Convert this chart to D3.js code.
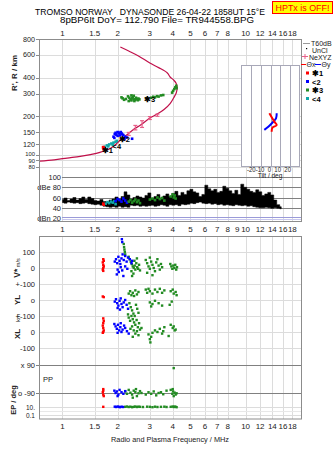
<!DOCTYPE html>
<html><head><meta charset="utf-8">
<script src="https://cdn.jsdelivr.net/npm/d3@7"></script>
<style>body{margin:0;background:#fff}svg{display:block}text{font-family:"Liberation Sans",Arial,sans-serif}</style>
</head><body><svg id="c" width="335" height="451"></svg>
<script>
// ---------------- DATA ----------------
const topTicks = [1,1.5,2,3,4,5,6,7,8,10,12,14,16,18];
const midTicks = [1,1.5,2,3,4,5,6,7,8,9,10,12,14,16,18];
const botTicks = [1,1.5,2,3,4,5,6,7,8,10,12,14,16,18];
const heightTicks = [800,600,400,300,200,150,120,100,90,80];
const ampTicks = [100,80,60,40,20];
const ampTickLabels = ["100","dBe 80","60","40","dBn 20"];
const tiltTicks = [-20,-10,0,10,20];

// true-height profile (MHz, km)
const profileF = [0.749,0.9,1.06,1.25,1.42,1.6,1.83,1.95,2.07,2.25,2.45,2.67,3.0,3.3,3.6,3.87,4.05,4.18,4.23,4.18,4.05,3.87,3.74,3.35,3.0,2.6,2.3,2.07];
const profileH = [89,91,94,97,100,104,112,120,130,143,158,170,193,208,226,250,278,303,331,360,382,404,434,478,519,590,645,693];
// NeXYZ error bars [f, h, lo, hi]
const neXYZ = [[2.3,145,141,149],[2.5,162,156,169],[2.72,172,163,184],[3.0,193,188,198],[3.3,203,199,207]];

// echoes in R' (f, km)
const echo1 = [[1.67,114],[1.68,111]];
const echo2 = [[1.9,138],[1.93,145],[1.95,148],[2.0,150],[2.03,148],[2.05,146],[2.08,150],[2.1,147],[2.12,144],[2.15,142],[2.0,140],[1.92,135],[2.2,138],[2.25,136],[2.4,133],[2.18,132],[1.97,143],[2.06,141]];
const echo3 = [[2.10,280],[2.13,275],[2.17,268],[2.22,272],[2.28,285],[2.32,278],[2.35,270],[2.38,265],[2.40,275],[2.42,282],[2.45,270],[2.47,262],[2.50,268],[2.52,278],[2.55,272],[2.58,266],[2.60,274],[2.63,270],[2.38,290],[2.45,288],[2.3,262],[2.9,275],[3.05,278],[3.13,283],[3.2,280],[3.28,286],[3.35,284],[3.45,290],[3.55,292],[3.97,305],[4.02,315],[4.08,325],[4.13,335],[4.18,345],[4.2,330]];
const echo4 = [[1.7,115],[1.75,118],[1.8,120],[1.85,122],[1.9,124],[1.95,126],[1.98,128],[1.88,119],[1.78,116]];
const echoLabels = [["✱1",1.76,109],["<4",1.98,117],["✱2",2.18,133],["✱3",2.99,272]];

// tilt inset (deg, km)
const tiltX = [[-1.2,210],[4,181],[6.5,170],[2,162],[1.2,151]];
const tiltY = [[6.5,210],[5.8,192],[1.2,175],[-2.3,165],[-6.5,156]];

// amplitude band (MHz, dB top, dB bottom)
const ampF = [1.00,1.04,1.08,1.12,1.16,1.21,1.25,1.30,1.35,1.40,1.46,1.51,1.57,1.63,1.70,1.76,1.83,1.90,1.97,2.05,2.13,2.21,2.29,2.38,2.47,2.57,2.66,2.77,2.87,2.98,3.10,3.22,3.34,3.47,3.60,3.74,3.88,4.03,4.19,4.35,4.52,4.69,4.87,5.06,5.25,5.45,5.66,5.88,6.10,6.34,6.58,6.83,7.10,7.37,7.65,7.95,8.25,8.57,8.90,9.24,9.59,9.96,10.34,10.74,11.15,11.58,12.03,12.49,12.97,13.46,13.98,14.52,15.08,15.66];
const ampTop = [56,59,54,57,60,55,58,61,56,61,58,54,53,56,52,51,55,57,61,57,62,71,65,57,60,63,61,59,64,69,58,62,66,59,63,67,62,68,72,64,70,66,73,76,71,69,62,66,84,77,73,76,70,72,82,78,73,68,74,66,86,80,76,72,70,75,71,64,67,70,65,55,46,42];
const ampBot = [50,49,51,50,49,50,48,49,50,48,47,46,47,45,43,42,41,42,41,43,41,42,41,45,44,45,43,44,43,44,45,43,44,46,45,43,46,45,46,44,47,46,47,49,48,50,51,49,48,49,47,48,46,47,45,46,45,44,46,45,44,45,43,44,42,41,40,40,41,40,39,40,39,38];
const amp1 = [[1.67,48],[1.68,46]];
const amp2 = [[1.95,53],[2.0,57],[2.05,55],[2.1,52],[2.15,58],[2.2,54],[2.25,50]];
const amp3 = [[2.3,52],[2.35,55],[2.4,50],[2.45,53],[2.5,56],[2.55,51],[2.6,54],[2.65,49],[3.0,56],[3.1,58],[3.2,55],[3.3,60],[3.4,57],[3.5,59],[3.6,54],[3.9,62],[4.0,66],[4.05,60],[4.1,64],[4.15,58]];
const amp4 = [[1.72,48],[1.76,51],[1.8,49],[1.84,52],[1.88,50],[1.92,53],[1.95,47]];

// V* (m/s)
const v1 = [[1.67,55],[1.68,45],[1.66,35],[1.67,20],[1.68,10],[1.67,0],[1.66,-10],[1.67,-18]];
const v2 = [[2.11,180],[2.12,162],[1.93,40],[1.96,55],[1.99,30],[2.02,70],[2.05,45],[2.07,25],[2.1,60],[2.13,85],[2.16,50],[2.2,75],[2.24,40],[2.28,65],[2.33,55],[2.38,30],[2.4,45],[2.0,-10],[2.03,-25],[1.98,-40],[2.08,5],[2.12,-15],[2.15,-50],[2.2,10],[2.26,-5]];
const v3 = [[2.16,150],[2.17,130],[2.18,115],[2.19,100],[2.2,85],[2.3,70],[2.33,55],[2.36,40],[2.39,25],[2.42,10],[2.45,0],[2.48,15],[2.5,-10],[2.53,30],[2.56,5],[2.59,-5],[2.62,20],[2.65,-15],[2.38,-20],[2.44,-35],[2.4,-50],[2.47,45],[2.55,60],[2.85,50],[2.9,30],[2.95,10],[3.0,-5],[3.05,40],[3.1,20],[3.15,0],[3.2,-20],[3.25,35],[3.3,55],[3.35,15],[3.4,-10],[3.45,25],[3.5,5],[2.9,-30],[3.1,-45],[3.0,65],[3.88,25],[3.93,10],[3.98,-5],[4.03,15],[4.08,0],[4.13,20],[4.18,-10],[4.22,5]];
// YL (km)
const yl1 = [[1.66,22],[1.68,18]];
const yl2 = [[1.93,-10],[1.96,5],[1.99,-20],[2.02,-35],[2.05,-5],[2.08,10],[2.1,-25],[2.13,-45],[2.16,-15],[2.2,0],[2.24,-30],[2.28,-55],[2.0,-50],[2.06,-60]];
const yl3 = [[2.3,40],[2.34,55],[2.38,30],[2.42,45],[2.46,25],[2.5,60],[2.55,35],[2.6,50],[2.85,65],[2.9,45],[2.95,70],[3.0,55],[3.1,40],[3.2,65],[3.3,50],[3.4,70],[3.5,45],[3.6,60],[3.9,55],[4.0,65],[4.05,40],[4.15,50],[4.2,30],[2.32,-20],[2.36,-45],[2.4,-65],[2.44,-85],[2.48,-100],[2.52,-30],[2.56,-55],[2.6,-80],[2.28,-90],[3.0,-15],[3.1,-25],[3.2,-5],[3.35,-20],[3.5,-35],[3.05,-40],[3.85,-30],[3.95,-10]];
// XL (km)
const xl1 = [[1.67,85],[1.68,70],[1.67,55],[1.66,40],[1.67,25],[1.68,10],[1.67,0],[1.66,-5]];
const xl2 = [[1.92,50],[1.95,35],[1.98,20],[2.01,45],[2.04,10],[2.07,30],[2.1,0],[2.13,15],[2.17,40],[2.2,25],[2.25,5],[2.3,-10],[2.0,-5],[2.08,55]];
const xl3 = [[2.3,90],[2.34,70],[2.38,100],[2.42,80],[2.46,60],[2.5,45],[2.54,75],[2.58,30],[2.62,55],[2.35,20],[2.4,35],[2.45,10],[2.5,-10],[2.55,5],[2.6,-20],[2.65,15],[2.42,-30],[2.7,25],[2.95,-15],[3.0,-45],[3.02,-65],[3.05,-30],[3.1,-5],[3.2,10],[3.3,0],[3.4,20],[3.5,-10],[3.6,30],[3.55,5],[3.9,45],[4.0,25],[4.05,35],[4.1,10],[4.15,15],[3.8,-25]];
// PP (deg)
const pp1 = [[1.67,-65],[1.67,-75],[1.66,-85],[1.67,-100],[1.68,-110]];
const pp2 = [[1.92,-75],[1.95,-90],[1.98,-80],[2.02,-100],[2.05,-70],[2.1,-85],[2.15,-95],[2.2,-78],[2.0,-110]];
const pp3 = [[2.2,-80],[2.25,-95],[2.3,-70],[2.35,-88],[2.4,-100],[2.45,-75],[2.5,-85],[2.55,-110],[2.6,-92],[2.65,-78],[2.42,-120],[2.52,-65],[2.7,-90],[2.85,-100],[2.95,-85],[3.05,-95],[3.15,-80],[3.25,-105],[3.35,-90],[3.45,-85],[3.55,-98],[3.7,-75],[3.9,-70],[3.98,-95],[4.02,-80],[4.05,-110],[4.1,-88],[4.15,-100],[4.2,-92],[4.0,-65],[4.05,70]];
// EP (deg)
const ep1 = [[1.67,11]];
const ep2 = [[1.93,12],[1.96,10],[2.0,13],[2.03,11],[2.06,9],[2.1,12],[2.14,10]];
const ep3 = [[2.2,11],[2.25,13],[2.3,10],[2.35,12],[2.4,9],[2.45,11],[2.5,13],[2.55,10],[2.6,12],[2.65,11],[2.75,10],[2.9,12],[3.0,11],[3.1,9],[3.2,12],[3.3,10],[3.45,11],[3.6,12],[3.7,10],[3.9,11],[4.0,13],[4.05,10],[4.1,12],[4.15,11],[4.2,9]];

const lowerTicks = [["100","v",100],["0","v",0],["+-100","v",-100],["o","yl",0],["+-100","yl",-100],["0","xl",0],["-100","xl",-100],["x 90","pp",90],["o -90","pp",-90],["10.","ep",10],["0.1","ep",0.1]];

// ---------------- DRAW ----------------
const svg = d3.select('#c');
const C = {red:'#ff0000', blue:'#0000ff', green:'#228b22', teal:'#10a8a8', crimson:'#c0104a', pink:'#e8608a', grid:'#dcdcdc', frame:'#8c8c8c', dark:'#808080'};
const X0 = 39.5, X1 = 301.5;
const x = d3.scaleLog().domain([0.749, 20.2]).range([X0, X1]);
const yH = d3.scaleLog().domain([80, 800]).range([167, 39]);
const yA = d3.scaleLinear().domain([20, 100]).range([218, 177]);
const yS = {
  v: d3.scaleLinear().domain([-100, 100]).range([284, 252]),
  yl: d3.scaleLinear().domain([-100, 100]).range([316, 284]),
  xl: d3.scaleLinear().domain([-100, 100]).range([348, 316]),
  pp: d3.scaleLinear().domain([-90, 90]).range([393, 365]),
  ep: d3.scaleLog().domain([0.1, 10]).range([415, 407])
};
const tx = d3.scaleLinear().domain([-31, 31]).range([241, 300]);

const F = '"Liberation Sans",Arial,sans-serif';
function txt(g, s, px, py, opt = {}) {
  return g.append('text').attr('x', px).attr('y', py).text(s)
    .attr('font-size', opt.size || 8).attr('fill', opt.fill || '#222')
    .attr('text-anchor', opt.anchor || 'start')
    .attr('font-weight', opt.weight || 'normal')
    .attr('font-family', opt.family || F);
}

// Title
const mono = '"DejaVu Sans Mono",monospace';
txt(svg, 'TROMSO NORWAY   DYNASONDE 26-04-22 1858UT 15°E', 35, 14.5, {size: 8.6, family: mono, fill: '#000'})
  .attr('textLength', 230).attr('lengthAdjust', 'spacingAndGlyphs').style('white-space','pre');
txt(svg, '8pBP6It DoY= 112.790 File= TR944558.BPG', 60, 23, {size: 8.6, family: mono, fill: '#000'})
  .attr('textLength', 194).attr('lengthAdjust', 'spacingAndGlyphs');
svg.append('rect').attr('x', 272.5).attr('y', 1.5).attr('width', 60).attr('height', 12).attr('fill', '#ffff00').attr('stroke', '#ff0000');
txt(svg, 'HPTx is OFF!', 302.5, 11, {size: 9, family: mono, fill: '#ff0000', anchor: 'middle'})
  .attr('textLength', 54).attr('lengthAdjust', 'spacingAndGlyphs');

// ---- upper panel grid ----
const gU = svg.append('g');
gU.selectAll('.vg').data(topTicks).join('line')
  .attr('x1', d => Math.round(x(d)) + 0.5).attr('x2', d => Math.round(x(d)) + 0.5)
  .attr('y1', 39).attr('y2', 222).attr('stroke', C.grid);
gU.selectAll('.hg').data(heightTicks).join('line')
  .attr('x1', X0).attr('x2', X1)
  .attr('y1', d => Math.round(yH(d)) + 0.5).attr('y2', d => Math.round(yH(d)) + 0.5).attr('stroke', C.grid);
gU.selectAll('.ht').data(heightTicks).join('line')
  .attr('x1', 36).attr('x2', X0)
  .attr('y1', d => Math.round(yH(d)) + 0.5).attr('y2', d => Math.round(yH(d)) + 0.5).attr('stroke', C.frame);
heightTicks.forEach(d => txt(gU, String(d), 35, yH(d) + (d === 100 ? 1 : d < 100 ? 2.2 : 2.5), {anchor: 'end', size: d <= 100 ? 5.8 : 7.2}));
topTicks.forEach(d => txt(gU, String(d), x(d), 36, {anchor: 'middle', size: 8}));
txt(gU, "R', R / km", 0, 0, {anchor: 'middle', size: 8, weight: 'bold'}).attr('transform', 'translate(17,73) rotate(-90)');

// ---- amplitude panel ----
const gA = svg.append('g');
gA.append('rect').attr('x', X0 + 0.5).attr('y', 170).attr('width', 21).attr('height', 51).attr('fill', '#fff');
ampTicks.forEach((d, i) => {
  const yy = Math.round(yA(d)) + 0.5;
  if (d === 20) {
    gA.append('line').attr('x1', 62).attr('x2', X1).attr('y1', yy - 1).attr('y2', yy - 1).attr('stroke', '#9a9ad8');
    gA.append('line').attr('x1', 62).attr('x2', X1).attr('y1', yy + 1).attr('y2', yy + 1).attr('stroke', '#c8c8ee');
  } else {
    gA.append('line').attr('x1', 62).attr('x2', X1).attr('y1', yy).attr('y2', yy).attr('stroke', C.dark);
  }
  txt(gA, ampTickLabels[i], 61, yA(d) + 3, {anchor: 'end', size: 7.5});
});
const band = ampF.map((f, i) => ({f, t: ampTop[i], b: ampBot[i]}));
gA.append('path').datum(band)
  .attr('d', d3.area().x(d => x(d.f)).y0(d => yA(d.b)).y1(d => yA(d.t)).curve(d3.curveStep))
  .attr('fill', '#000').attr('stroke', '#000').attr('stroke-width', 0.5);
midTicks.forEach(d => txt(gA, String(d), x(d), 232, {anchor: 'middle', size: 8}));

// frame upper
svg.append('rect').attr('x', X0).attr('y', 39.5).attr('width', X1 - X0).attr('height', 182).attr('fill', 'none').attr('stroke', C.frame);

// profile
gU.append('path').datum(profileF.map((f, i) => [f, profileH[i]]))
  .attr('d', d3.line().x(d => x(d[0])).y(d => yH(d[1])).curve(d3.curveCatmullRom))
  .attr('fill', 'none').attr('stroke', C.crimson).attr('stroke-width', 1.2);
// NeXYZ bars
neXYZ.forEach(d => {
  const cx = x(d[0]);
  gU.append('line').attr('x1', cx).attr('x2', cx).attr('y1', yH(d[2])).attr('y2', yH(d[3])).attr('stroke', C.pink).attr('stroke-width', 1.2);
  [d[2], d[3]].forEach(h => gU.append('line').attr('x1', cx - 2).attr('x2', cx + 2).attr('y1', yH(h)).attr('y2', yH(h)).attr('stroke', C.pink).attr('stroke-width', 1.2));
});

function squares(g, data, ys, color, s = 2.6) {
  g.append('g').selectAll('rect').data(data).join('rect')
    .attr('x', d => x(d[0]) - s / 2).attr('y', d => ys(d[1]) - s / 2)
    .attr('width', s).attr('height', s).attr('fill', color);
}
squares(gU, echo3, yH, C.green);
squares(gU, echo4, yH, C.teal);
squares(gU, echo2, yH, C.blue);
squares(gU, echo1, yH, C.red, 3);
echoLabels.forEach(d => txt(gU, d[0], x(d[1]), yH(d[2]) + 3, {anchor: 'middle', size: 7.5, weight: 'bold', fill: '#000', family: '"DejaVu Sans",sans-serif'}));

squares(gA, amp4, yA, C.teal);
squares(gA, amp2, yA, C.blue);
squares(gA, amp3, yA, C.green);
squares(gA, amp1, yA, C.red);

// ---- tilt inset ----
const gT = svg.append('g');
gT.append('rect').attr('x', 241.5).attr('y', 65.5).attr('width', 58).attr('height', 101).attr('fill', '#fff').attr('stroke', '#a8a8b8');
tiltTicks.forEach(d => {
  gT.append('line').attr('x1', Math.round(tx(d)) + 0.5).attr('x2', Math.round(tx(d)) + 0.5).attr('y1', 66).attr('y2', 166).attr('stroke', '#a8a8b8');
});
txt(gT, '-20-10  0  10  20', 269, 171.5, {anchor: 'middle', size: 6.5}).attr('textLength', 44).attr('lengthAdjust', 'spacingAndGlyphs').style('white-space','pre');
txt(gT, 'Tilt / deg', 270, 178, {anchor: 'middle', size: 6.5});
const tl = d3.line().x(d => tx(d[0])).y(d => yH(d[1])).curve(d3.curveCatmullRom);
gT.append('path').datum(tiltY).attr('d', tl).attr('fill', 'none').attr('stroke', C.blue).attr('stroke-width', 2);
gT.append('path').datum(tiltX).attr('d', tl).attr('fill', 'none').attr('stroke', C.red).attr('stroke-width', 2);

// ---- legend ----
const gL = svg.append('g');
gL.append('line').attr('x1', 303).attr('x2', 310).attr('y1', 43.5).attr('y2', 43.5).attr('stroke', '#999');
txt(gL, 'T60dB', 311, 46, {size: 7});
gL.append('rect').attr('x', 306).attr('y', 48).attr('width', 1.2).attr('height', 1.2).attr('fill', '#000');
txt(gL, 'UnCl', 312, 52.5, {size: 7});
gL.append('line').attr('x1', 302).attr('x2', 308).attr('y1', 56.5).attr('y2', 56.5).attr('stroke', C.pink);
gL.append('line').attr('x1', 305).attr('x2', 305).attr('y1', 54).attr('y2', 59).attr('stroke', C.pink);
txt(gL, 'NeXYZ', 309, 59.5, {size: 7});
gL.append('line').attr('x1', 301).attr('x2', 306).attr('y1', 64.5).attr('y2', 64.5).attr('stroke', C.red);
txt(gL, 'Θx', 306.5, 67, {size: 7});
gL.append('line').attr('x1', 315).attr('x2', 321).attr('y1', 64.5).attr('y2', 64.5).attr('stroke', C.blue);
txt(gL, 'Θy', 321.5, 67, {size: 7});
[[C.red, '✱1', 73], [C.blue, '<2', 81.5], [C.green, '✱3', 90], [C.teal, '<4', 98.5]].forEach(d => {
  gL.append('rect').attr('x', 306).attr('y', d[2] - 1.5).attr('width', 3).attr('height', 3).attr('fill', d[0]);
  txt(gL, d[1], 312, d[2] + 3, {size: 7.5, weight: 'bold', fill: '#000', family: '"DejaVu Sans",sans-serif'});
});

// ---- lower panel ----
const gB = svg.append('g');
botTicks.forEach(d => gB.append('line').attr('x1', Math.round(x(d)) + 0.5).attr('x2', Math.round(x(d)) + 0.5).attr('y1', 236).attr('y2', 419).attr('stroke', C.grid));
lowerTicks.forEach(d => {
  const yy = Math.round(yS[d[1]](d[2])) + 0.5;
  const dark = d[1] === 'pp';
  gB.append('line').attr('x1', dark ? 36 : X0).attr('x2', X1).attr('y1', yy).attr('y2', yy).attr('stroke', dark ? C.dark : C.grid);
  txt(gB, d[0], 35, yy + 2.5, {anchor: 'end', size: d[1] === 'ep' ? 6.5 : 7.5});
});
gB.append('line').attr('x1', X0).attr('x2', X1).attr('y1', 411.5).attr('y2', 411.5).attr('stroke', '#e8e8e8');
svg.append('rect').attr('x', X0).attr('y', 236.5).attr('width', X1 - X0).attr('height', 182.5).attr('fill', 'none').attr('stroke', C.frame);

[[v1, v2, v3, 'v'], [yl1, yl2, yl3, 'yl'], [xl1, xl2, xl3, 'xl'], [pp1, pp2, pp3, 'pp'], [ep1, ep2, ep3, 'ep']].forEach(r => {
  squares(gB, r[2], yS[r[3]], C.green, 2.4);
  squares(gB, r[1], yS[r[3]], C.blue, 2.4);
  squares(gB, r[0], yS[r[3]], C.red, 2.4);
});

botTicks.forEach(d => txt(gB, String(d), x(d), 429, {anchor: 'middle', size: 8}));
txt(gB, 'Radio and Plasma Frequency / MHz', 170, 442, {anchor: 'middle', size: 7.5}).attr('textLength', 118).attr('lengthAdjust', 'spacingAndGlyphs');

// rotated labels
const vl = txt(gB, '', 0, 0, {anchor: 'middle', size: 8, weight: 'bold'}).attr('transform', 'translate(20,268) rotate(-90)');
vl.append('tspan').text('V*').attr('font-size', 8.5);
vl.append('tspan').text(' m/s').attr('font-size', 5.5).attr('font-weight', 'normal');
txt(gB, 'YL', 0, 0, {anchor: 'middle', size: 8, weight: 'bold'}).attr('transform', 'translate(20,300) rotate(-90)');
txt(gB, 'km', 0, 0, {anchor: 'middle', size: 6}).attr('transform', 'translate(20,318) rotate(-90)');
txt(gB, 'XL', 0, 0, {anchor: 'middle', size: 8, weight: 'bold'}).attr('transform', 'translate(20,334) rotate(-90)');
txt(gB, 'PP', 43, 382, {size: 7.5});
txt(gB, 'EP / deg', 0, 0, {anchor: 'middle', size: 7.5, weight: 'bold'}).attr('transform', 'translate(16,400) rotate(-90)');
</script></body></html>
